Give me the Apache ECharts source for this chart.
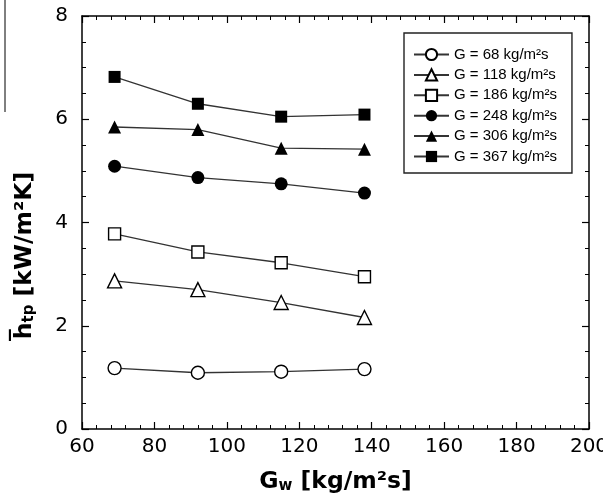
<!DOCTYPE html>
<html>
<head>
	<meta charset="utf-8">
	<script src="https://cdn.jsdelivr.net/npm/echarts@6/dist/echarts.min.js"></script>
</head>
<body style="margin:0">
	<div id="main" style="width:603px; height:496px;"></div>
	<script>
		// water mass flux Gw [kg/m2s]
		var gw = [69, 92, 115, 138];
		// mean two-phase coefficient [kW/m2K] for each refrigerant flux G
		var h68 = [1.18, 1.09, 1.11, 1.16];
		var h118 = [2.87, 2.70, 2.45, 2.16];
		var h186 = [3.78, 3.43, 3.22, 2.95];
		var h248 = [5.09, 4.87, 4.75, 4.57];
		var h306 = [5.85, 5.80, 5.44, 5.42];
		var h367 = [6.82, 6.30, 6.05, 6.09];
		var names = ['G = 68 kg/m²s', 'G = 118 kg/m²s', 'G = 186 kg/m²s',
			'G = 248 kg/m²s', 'G = 306 kg/m²s', 'G = 367 kg/m²s'];

		var font = 'Liberation Sans, Arial, sans-serif';
		var wide = 'DejaVu Sans, sans-serif';

		function pairs(ys) {
			var out = [];
			for (var i = 0; i < gw.length; i++) out.push([gw[i], ys[i]]);
			return out;
		}

		function mk(name, ys, symbol, filled, size) {
			return {
				name: name,
				type: 'line',
				data: pairs(ys),
				symbol: symbol,
				symbolSize: size,
				showAllSymbol: true,
				lineStyle: { color: '#333', width: 1.3 },
				itemStyle: {
					color: filled ? '#000' : '#fff',
					borderColor: '#000',
					borderWidth: filled ? 0 : 1.4
				},
				emphasis: { disabled: true },
				z: 3
			};
		}

		var tickStyle = { show: true, inside: true, length: 7, lineStyle: { color: '#000', width: 1.2 } };
		var minor = function (n) {
			return { show: true, splitNumber: n, length: 4, lineStyle: { color: '#000', width: 1 } };
		};
		var axLine = { show: true, onZero: false, lineStyle: { color: '#000', width: 1.5 } };
		var nameRich = {
			b: { fontFamily: wide, fontSize: 23.5, fontWeight: 'bold', color: '#000' },
			s: { fontFamily: wide, fontSize: 15, fontWeight: 'bold', color: '#000', verticalAlign: 'bottom', padding: [10, 0, 0, 0] }
		};

		var chart = echarts.init(document.getElementById('main'));
		chart.setOption({
			animation: false,
			grid: { left: 82, top: 16, right: 14, bottom: 67, outerBoundsMode: 'none' },
			legend: {
				orient: 'vertical',
				left: 404, top: 33,
				data: names,
				itemWidth: 35, itemHeight: 14, itemGap: 5.4,
				padding: [14, 15, 9, 9],
				borderColor: '#222', borderWidth: 1.4,
				textStyle: { fontFamily: font, fontSize: 15, color: '#000' }
			},
			xAxis: [{
				type: 'value', min: 60, max: 200, interval: 20,
				axisLine: axLine, axisTick: tickStyle, minorTick: minor(5),
				splitLine: { show: false },
				axisLabel: { fontFamily: wide, fontSize: 20, color: '#000', margin: 8 },
				name: '{b|G}{s|w}{b| [kg/m²s]}',
				nameLocation: 'middle', nameGap: 40,
				nameTextStyle: { rich: nameRich }
			}, {
				type: 'value', position: 'top', min: 60, max: 200, interval: 20,
				axisLine: axLine, axisTick: tickStyle, minorTick: minor(5),
				splitLine: { show: false }, axisLabel: { show: false }
			}],
			yAxis: [{
				type: 'value', min: 0, max: 8, interval: 2,
				axisLine: axLine, axisTick: tickStyle, minorTick: minor(4),
				splitLine: { show: false },
				axisLabel: { fontFamily: wide, fontSize: 20, color: '#000', margin: 14 },
				name: '{b|h\u0305}{s|tp}{b| [kW/m²K]}',
				nameLocation: 'middle', nameGap: 45,
				nameTextStyle: { rich: nameRich, padding: [0, 66, 0, 0] }
			}, {
				type: 'value', position: 'right', min: 0, max: 8, interval: 2,
				axisLine: axLine, axisTick: tickStyle, minorTick: minor(4),
				splitLine: { show: false }, axisLabel: { show: false }
			}],
			series: [
				mk(names[0], h68, 'circle', false, 13),
				mk(names[1], h118, 'triangle', false, 14),
				mk(names[2], h186, 'rect', false, 12),
				mk(names[3], h248, 'circle', true, 13),
				mk(names[4], h306, 'triangle', true, 13),
				mk(names[5], h367, 'rect', true, 12)
			],
			graphic: [{
				type: 'line',
				shape: { x1: 5, y1: 0, x2: 5, y2: 112 },
				style: { stroke: '#000', lineWidth: 1 }
			}]
		});
	</script>
</body>
</html>
